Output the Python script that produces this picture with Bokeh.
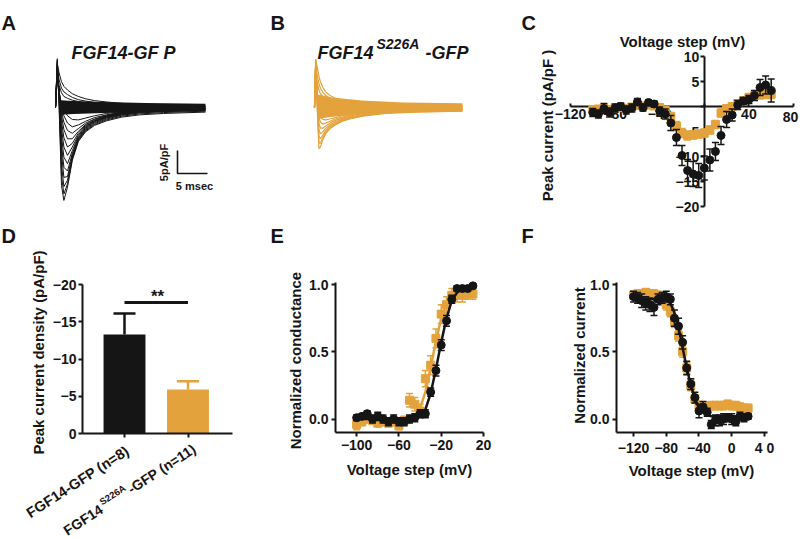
import math
from bokeh.plotting import figure
from bokeh.models import Range1d, LinearAxis, FixedTicker, Label, PrintfTickFormatter
from bokeh.layouts import row, column
from bokeh.embed import file_html
from bokeh.resources import INLINE

FONT = "Liberation Sans"
INK = "#151515"
ORANGE = "#E4A23C"

# ---------------- data ----------------
# A: FGF14-GFP current traces (time in ms, current in pA/pF)
a_t = [0, 0.3, 0.6, 1.0, 1.4, 2.0, 2.8, 3.8, 5.0, 6.5, 8.5, 11, 14, 18, 25]
a_traces = [
    [0, 10.6, 0.0, -17.0, -20.2, -17.3, -11.5, -7.4, -5.3, -3.9, -2.9, -2.1, -1.6, -1.3, -1.0],
    [0, 10.3, 1.0, -15.0, -18.8, -16.6, -11.2, -7.2, -5.1, -3.7, -2.7, -1.9, -1.4, -1.1, -0.8],
    [0, 10.0, 2.0, -12.5, -17.2, -15.8, -10.8, -7.0, -4.9, -3.5, -2.5, -1.7, -1.2, -0.9, -0.6],
    [0, 9.6, 2.5, -10.0, -15.2, -15.0, -10.4, -6.8, -4.7, -3.3, -2.3, -1.6, -1.1, -0.8, -0.5],
    [0, 9.2, 3.0, -8.0, -13.0, -13.8, -10.0, -6.6, -4.5, -3.1, -2.2, -1.5, -1.0, -0.7, -0.4],
    [0, 8.8, 3.0, -6.2, -10.8, -12.2, -9.4, -6.3, -4.3, -3.0, -2.1, -1.4, -0.9, -0.6, -0.3],
    [0, 8.4, 3.5, -4.5, -8.6, -10.4, -8.6, -6.0, -4.1, -2.9, -2.0, -1.3, -0.8, -0.5, -0.3],
    [0, 8.0, 3.5, -3.0, -6.6, -8.6, -7.8, -5.6, -3.9, -2.8, -1.9, -1.2, -0.8, -0.5, -0.2],
    [0, 7.6, 3.5, -1.8, -4.8, -6.8, -6.8, -5.2, -3.7, -2.6, -1.8, -1.2, -0.7, -0.4, -0.2],
    [0, 7.2, 3.5, -0.8, -3.2, -5.0, -5.6, -4.6, -3.4, -2.5, -1.7, -1.1, -0.7, -0.4, -0.2],
    [0, 6.8, 3.5, 0.0, -1.8, -3.4, -4.2, -3.8, -3.0, -2.2, -1.6, -1.0, -0.6, -0.4, -0.2],
    [0, 6.4, 3.5, 0.8, -0.6, -1.8, -2.6, -2.7, -2.3, -1.8, -1.3, -0.9, -0.6, -0.3, -0.1],
    [0, 9.5, 7.5, 5.6, 4.6, 3.8, 3.0, 2.4, 1.9, 1.5, 1.2, 0.9, 0.6, 0.4, 0.3],
    [0, 8.5, 6.0, 4.2, 3.4, 2.8, 2.2, 1.7, 1.4, 1.1, 0.9, 0.7, 0.5, 0.3, 0.2],
    [0, 7.5, 4.8, 3.2, 2.4, 2.0, 1.6, 1.3, 1.0, 0.8, 0.6, 0.5, 0.4, 0.3, 0.2],
]
a_band_t = [0.8, 3, 8, 15, 25]
a_band_hi = [1.6, 1.4, 1.2, 1.0, 0.8]
a_band_lo = [-1.6, -1.4, -1.2, -1.0, -0.8]

# B: FGF14(S226A)-GFP current traces
b_t = [0, 0.2, 0.45, 0.75, 1.0, 1.4, 1.9, 2.6, 3.5, 4.7, 6.2, 8.5, 12, 17, 25]
b_traces = [
    [0, 10.6, 0.0, -8.9, -8.6, -7.0, -5.7, -4.6, -3.8, -3.0, -2.4, -1.8, -1.3, -1.0, -0.8],
    [0, 10.2, 1.0, -7.6, -7.8, -6.6, -5.4, -4.4, -3.6, -2.9, -2.3, -1.7, -1.2, -0.9, -0.6],
    [0, 9.8, 2.0, -6.2, -6.8, -6.0, -5.0, -4.1, -3.4, -2.7, -2.1, -1.6, -1.1, -0.8, -0.5],
    [0, 9.4, 2.5, -4.8, -5.7, -5.3, -4.5, -3.8, -3.1, -2.5, -2.0, -1.5, -1.0, -0.7, -0.4],
    [0, 9.0, 3.0, -3.4, -4.5, -4.5, -4.0, -3.4, -2.8, -2.3, -1.8, -1.3, -0.9, -0.6, -0.3],
    [0, 8.6, 3.2, -2.0, -3.2, -3.6, -3.4, -3.0, -2.5, -2.1, -1.6, -1.2, -0.8, -0.5, -0.3],
    [0, 8.2, 3.4, -0.8, -2.0, -2.6, -2.7, -2.5, -2.2, -1.8, -1.4, -1.0, -0.7, -0.4, -0.2],
    [0, 7.8, 3.5, 0.2, -0.9, -1.6, -1.9, -1.9, -1.7, -1.5, -1.2, -0.9, -0.6, -0.4, -0.2],
    [0, 10.4, 8.8, 6.8, 5.6, 4.4, 3.4, 2.6, 2.0, 1.6, 1.2, 0.9, 0.6, 0.4, 0.3],
    [0, 9.6, 7.2, 5.2, 4.2, 3.3, 2.6, 2.0, 1.6, 1.3, 1.0, 0.7, 0.5, 0.3, 0.2],
    [0, 8.8, 5.6, 3.8, 3.0, 2.4, 1.9, 1.5, 1.2, 1.0, 0.8, 0.6, 0.4, 0.3, 0.2],
]
b_band_t = [0.5, 3, 8, 15, 25]
b_band_hi = [2.8, 2.2, 1.5, 1.1, 0.9]
b_band_lo = [-2.5, -2.0, -1.4, -1.1, -0.9]

scale_ms = 5
scale_pa = 5

# C: peak current-voltage relation
c_v = [-100, -95, -90, -85, -80, -75, -70, -65, -60, -55, -50, -45, -40, -35, -30, -25, -20,
       -15, -10, -5, 0, 5, 10, 15, 20, 25, 30, 35, 40, 45, 50, 55, 60]
c_black = [-1.2, -1.5, -0.4, -1.2, -0.3, 0.0, -0.7, -0.3, 0.9, -0.2, 0.8, 0.5, -0.9, -1.5, -3.3,
           -6.2, -9.8, -12.8, -13.5, -13.8, -12.3, -10.7, -9.0, -5.8, -2.6, -1.7, 0.3, 1.1, 1.4,
           2.2, 3.8, 4.3, 3.2]
c_black_err = [0.8, 0.8, 1.0, 0.9, 0.8, 0.7, 0.8, 0.8, 0.7, 0.7, 0.5, 0.6, 0.8, 1.0, 1.5, 1.6,
               2.0, 2.2, 2.5, 2.4, 2.4, 2.2, 1.8, 1.8, 1.6, 1.2, 0.9, 0.7, 0.8, 1.0, 1.6, 1.8, 2.3]
c_orange = [-0.6, -0.5, -0.4, -0.6, -0.3, -0.2, -0.4, -0.1, 0.2, 0.1, 0.3, 0.1, -0.2, -0.8, -2.0,
            -3.9, -5.3, -5.8, -5.7, -5.5, -5.3, -4.7, -3.6, -1.3, -0.4, 0.0, 0.6, 1.2, 1.8, 2.2,
            2.4, 2.5, 2.5]
c_orange_err = [0.6, 0.6, 0.5, 0.6, 0.5, 0.5, 0.6, 0.5, 0.5, 0.6, 0.6, 0.5, 0.6, 0.7, 0.8, 0.9,
                0.9, 0.9, 0.8, 0.8, 0.8, 0.8, 0.8, 0.8, 0.7, 0.7, 0.7, 0.7, 0.8, 0.8, 0.9, 0.9, 0.9]

# D: peak current density bars
d_x = [0, 1]
d_names = ["FGF14-GFP (n=8)", "FGF14", "S226A", "-GFP (n=11)"]
d_mean = [-13.3, -5.9]
d_sem = [2.8, 1.1]
d_sig = -17.6

# E: normalized conductance
e_v = [-100, -95, -90, -85, -80, -75, -70, -65, -60, -55, -50, -45, -40, -35, -30, -25, -20,
       -15, -10, -5, 0, 5, 10]
e_black = [0.01, 0.02, 0.04, 0.00, 0.02, 0.00, -0.02, 0.00, -0.02, -0.02, 0.00, 0.01, 0.04, 0.04,
           0.20, 0.36, 0.55, 0.73, 0.89, 0.97, 0.97, 0.97, 0.99]
e_black_err = [0.02, 0.02, 0.02, 0.03, 0.03, 0.03, 0.03, 0.03, 0.03, 0.03, 0.03, 0.03, 0.03, 0.03,
               0.03, 0.04, 0.04, 0.04, 0.03, 0.02, 0.02, 0.02, 0.01]
e_orange = [-0.04, -0.02, 0.00, -0.01, -0.03, -0.02, -0.03, -0.02, -0.05, -0.01, 0.14, 0.11, 0.06,
            0.30, 0.40, 0.60, 0.78, 0.85, 0.92, 0.92, 0.92, 0.93, 0.93]
e_orange_err = [0.04, 0.03, 0.03, 0.03, 0.03, 0.03, 0.03, 0.03, 0.03, 0.03, 0.05, 0.05, 0.05, 0.06,
                0.07, 0.07, 0.07, 0.06, 0.05, 0.05, 0.05, 0.04, 0.04]
e_black_fit = [0, 0, 0, 0, 0, 0, 0, 0, 0, 0, 0, 0.005, 0.02, 0.07, 0.19, 0.37, 0.57, 0.75, 0.88,
               0.94, 0.97, 0.98, 0.99]
e_orange_fit = [0, 0, 0, 0, 0, 0, 0, 0, 0, 0, 0.01, 0.03, 0.08, 0.20, 0.38, 0.58, 0.75, 0.86, 0.91,
                0.93, 0.93, 0.93, 0.93]

# F: normalized current (steady-state inactivation)
f_v = [-120, -115, -110, -105, -100, -95, -90, -85, -80, -75, -70, -65, -60, -55, -50, -45, -40,
       -35, -30, -25, -20, -15, -10, -5, 0, 5, 10, 15, 20]
f_black = [0.91, 0.90, 0.88, 0.86, 0.85, 0.83, 0.89, 0.90, 0.91, 0.89, 0.75, 0.69, 0.57, 0.38,
           0.26, 0.16, 0.06, 0.09, 0.05, -0.04, -0.01, -0.01, 0.00, 0.01, 0.00, -0.02, 0.02, 0.01,
           0.02]
f_black_err = [0.04, 0.04, 0.05, 0.05, 0.05, 0.06, 0.04, 0.04, 0.04, 0.04, 0.06, 0.06, 0.05, 0.05,
               0.04, 0.04, 0.05, 0.04, 0.03, 0.03, 0.04, 0.04, 0.04, 0.03, 0.04, 0.03, 0.03, 0.03,
               0.02]
f_orange = [0.92, 0.93, 0.93, 0.94, 0.93, 0.93, 0.92, 0.90, 0.85, 0.80, 0.72, 0.62, 0.50, 0.38,
            0.25, 0.15, 0.10, 0.08, 0.09, 0.10, 0.10, 0.10, 0.10, 0.11, 0.10, 0.10, 0.09, 0.08,
            0.08]
f_orange_err = [0.03, 0.03, 0.03, 0.03, 0.03, 0.03, 0.03, 0.03, 0.04, 0.04, 0.04, 0.04, 0.04,
                0.04, 0.04, 0.03, 0.03, 0.03, 0.03, 0.03, 0.03, 0.03, 0.03, 0.03, 0.03, 0.03,
                0.03, 0.03, 0.03]
f_black_fit = [0.89, 0.89, 0.89, 0.89, 0.89, 0.89, 0.89, 0.89, 0.89, 0.86, 0.79, 0.68, 0.53, 0.38,
               0.25, 0.15, 0.08, 0.05, 0.03, 0.02, 0.02, 0.02, 0.02, 0.02, 0.02, 0.02, 0.02, 0.02,
               0.02]

# ---------------- layout helpers ----------------
ARIAL_BOLD = {'F': 611, 'G': 778, '1': 556, '4': 556, '-': 333, 'P': 667, ' ': 278, '(': 333,
              'n': 611, '=': 584, ')': 333, '8': 556, 'S': 667, '2': 556, '6': 556, 'A': 722}


def text_width(s, size):
    return sum(ARIAL_BOLD.get(c, 556) for c in s) * size / 1000.0


class Panel:
    """A figure whose frame is the whole figure box (page pixels),
    with two pixel/value anchor pairs per axis."""

    def __init__(self, box, xmap, ymap):
        l, t, r, b = box
        (rx1, vx1), (rx2, vx2) = xmap
        (ry1, vy1), (ry2, vy2) = ymap
        self.ax = (vx2 - vx1) / (rx2 - rx1)
        self.bx = vx1 - self.ax * rx1
        self.ay = (vy2 - vy1) / (ry2 - ry1)
        self.by = vy1 - self.ay * ry1
        p = figure(width=r - l, height=b - t, output_backend="svg", toolbar_location=None,
                   x_range=Range1d(self.X(l), self.X(r)), y_range=Range1d(self.Y(b), self.Y(t)),
                   x_axis_location=None, y_axis_location=None, title=None,
                   min_border_left=0, min_border_right=0, min_border_top=0, min_border_bottom=0)
        p.outline_line_color = None
        p.background_fill_color = "white"
        p.border_fill_color = "white"
        p.xgrid.visible = False
        p.ygrid.visible = False
        self.p = p

    def X(self, rx):
        return self.ax * rx + self.bx

    def Y(self, ry):
        return self.ay * ry + self.by

    def text(self, rx, ry, s, size=14, style="bold", align="center", baseline="middle",
             angle=0.0, color=INK):
        self.p.add_layout(Label(x=self.X(rx), y=self.Y(ry), text=s, text_font=FONT,
                                text_font_size=f"{size}px", text_font_style=style,
                                text_align=align, text_baseline=baseline, angle=angle,
                                angle_units="deg", text_color=color))

    def axis(self, side, at, bounds, ticks, overrides=None, fmt=None, tick_in=0, tick_out=4,
             standoff=3, level=None):
        ax = LinearAxis(fixed_location=at, bounds=bounds, ticker=FixedTicker(ticks=ticks))
        if overrides is not None:
            ax.major_label_overrides = overrides
        if fmt is not None:
            ax.formatter = PrintfTickFormatter(format=fmt)
        ax.axis_line_color = INK
        ax.axis_line_width = 2
        ax.major_tick_line_color = INK
        ax.major_tick_line_width = 2
        ax.major_tick_in = tick_in
        ax.major_tick_out = tick_out
        ax.minor_tick_line_color = None
        ax.major_label_text_font = FONT
        ax.major_label_text_font_size = "14px"
        ax.major_label_text_font_style = "bold"
        ax.major_label_text_color = INK
        ax.major_label_standoff = standoff
        if level is not None:
            ax.level = level
        self.p.add_layout(ax, side)
        return ax


def errbars(p, x, y, e, color, cap=7, lw=1.5):
    lo = [a - b for a, b in zip(y, e)]
    hi = [a + b for a, b in zip(y, e)]
    p.segment(x0=x, y0=lo, x1=x, y1=hi, line_color=color, line_width=lw)
    p.scatter(x=list(x) + list(x), y=lo + hi, marker="dash", size=cap, line_color=color,
              line_width=lw)


def letter(P, rx, ry, s):
    P.text(rx, ry, s, size=20, align="left", baseline="alphabetic")


# ---------------- Panel A ----------------
A = Panel((0, 0, 268, 216), ((55, 0.0), (85, 5.0)), ((107, 0.0), (130, -5.0)))
A.p.varea(x=a_band_t, y1=a_band_lo, y2=a_band_hi, fill_color=INK)
A.p.multi_line(xs=[a_t] * len(a_traces), ys=a_traces, line_color=INK, line_width=1)
sbx, sby = A.X(177), A.Y(173)
A.p.line(x=[sbx, sbx, sbx + scale_ms], y=[sby + scale_pa, sby, sby], line_color=INK,
         line_width=1.6)
A.text(163, 162, "5pA/pF", size=11, angle=90)
A.text(194, 185, "5 msec", size=11)
A.text(123, 52, "FGF14-GF P", size=18, style="bold italic", baseline="alphabetic")
letter(A, 1, 22, "A")

# ---------------- Panel B ----------------
B = Panel((268, 0, 518, 216), ((314, 0.0), (343.6, 5.0)), ((107, 0.0), (130, -5.0)))
B.p.varea(x=b_band_t, y1=b_band_lo, y2=b_band_hi, fill_color=ORANGE)
B.p.multi_line(xs=[b_t] * len(b_traces), ys=b_traces, line_color=ORANGE, line_width=1.2)
B.text(317, 52, "FGF14", size=18, style="bold italic", align="left", baseline="alphabetic")
B.text(376, 43, "S226A", size=14, style="bold italic", align="left", baseline="alphabetic")
B.text(425, 52, "-GFP", size=18, style="bold italic", align="left", baseline="alphabetic")
letter(B, 270, 22, "B")

# ---------------- Panel C ----------------
C = Panel((518, 0, 800, 216), ((570, -120.0), (793, 80.0)), ((56, 10.0), (206, -20.0)))
C.axis("below", 0, (-120, 80), [-120, -80, -40, 0, 40, 80], overrides={0: "", 80: ""},
       tick_in=3, tick_out=0, standoff=2, level="underlay")
C.axis("left", 0, (-20, 10), [-20, -15, -10, -5, 0, 5, 10], overrides={0: ""},
       tick_out=4, standoff=1, level="underlay")
C.text(790, 116, "80", size=14)
errbars(C.p, c_v, c_orange, c_orange_err, ORANGE, cap=7, lw=1.5)
C.p.scatter(c_v, c_orange, marker="square", size=8, fill_color=ORANGE, line_color=ORANGE)
errbars(C.p, c_v, c_black, c_black_err, INK, cap=7, lw=1.5)
C.p.scatter(c_v, c_black, marker="circle", size=8, fill_color=INK, line_color=INK)
C.text(682, 41, "Voltage step (mV)", size=15)
C.text(547, 125, "Peak current (pA/pF )", size=15, angle=90)
letter(C, 521, 22, "C")

# ---------------- Panel D ----------------
D = Panel((0, 216, 268, 539), ((124, 0.0), (187.5, 1.0)), ((433, 0.0), (284, -20.0)))
D.axis("below", 0, (D.X(82), D.X(232)), d_x, overrides={0: "", 1: ""}, tick_out=4)
D.axis("left", D.X(82), (-20, 0), [0, -5, -10, -15, -20], tick_out=4, standoff=2)
D.text(38, 352, "Peak current density (pA/pF)", size=15, angle=90)
D.p.vbar(x=d_x, top=d_mean, bottom=0, width=0.66, fill_color=[INK, ORANGE], line_color=None)
d_top = [m - s for m, s in zip(d_mean, d_sem)]
bar_cols = [INK, ORANGE]
D.p.segment(x0=d_x, y0=d_mean, x1=d_x, y1=d_top, line_color=bar_cols, line_width=2.5)
D.p.scatter(x=d_x, y=d_top, marker="dash", size=22, line_color=bar_cols, line_width=2.5)
D.p.line(x=d_x, y=[d_sig, d_sig], line_color=INK, line_width=3)
D.text(157, 296, "**", size=17)
TH = 33.0
u = (math.cos(math.radians(TH)), -math.sin(math.radians(TH)))
nrm = (-math.sin(math.radians(TH)), -math.cos(math.radians(TH)))
FS = 14
D.text(127, 449, d_names[0], size=14.5, align="right", angle=TH)
ex, ey = 194, 447
D.text(ex, ey, d_names[3], size=FS, align="right", angle=TH)
w3 = text_width(d_names[3], FS)
sx, sy = ex - w3 * u[0], ey - w3 * u[1]
g = 1.0
D.text(sx - g * u[0] + 5 * nrm[0], sy - g * u[1] + 5 * nrm[1], d_names[2], size=9.5,
       align="right", angle=TH)
w2 = text_width(d_names[2], 9.5)
k = g + w2 + 2.0
D.text(sx - k * u[0], sy - k * u[1], d_names[1], size=FS, align="right", angle=TH)
letter(D, 1, 235, "D")

# ---------------- Panel E ----------------
E = Panel((268, 216, 518, 539), ((335, -120.0), (483, 20.0)), ((432, -0.1), (282, 1.015)))
E.axis("below", -0.1, (-120, 20), [-100, -60, -20, 20], tick_out=4, standoff=3)
E.axis("left", -120, (-0.1, 1.015), [0, 0.5, 1.0], fmt="%.1f", tick_out=4, standoff=3)
E.text(409, 469, "Voltage step (mV)", size=15)
E.text(295, 358, "Normalized  conductance", size=15, angle=90)
E.p.line(e_v, e_orange_fit, line_color=ORANGE, line_width=2.5)
errbars(E.p, e_v, e_orange, e_orange_err, ORANGE, cap=7, lw=1.5)
E.p.scatter(e_v, e_orange, marker="square", size=8, fill_color=ORANGE, line_color=ORANGE)
E.p.line(e_v, e_black_fit, line_color=INK, line_width=2.5)
errbars(E.p, e_v, e_black, e_black_err, INK, cap=7, lw=1.5)
E.p.scatter(e_v, e_black, marker="circle", size=8, fill_color=INK, line_color=INK)
letter(E, 270, 235, "E")

# ---------------- Panel F ----------------
F = Panel((518, 216, 800, 539), ((616, -140.8), (767, 43.7)), ((432, -0.1), (282, 1.015)))
F.axis("below", -0.1, (-140.8, 43.7), [-120, -80, -40, 0, 40], overrides={40: "4 0"},
       tick_out=4, standoff=3)
F.axis("left", -140.8, (-0.1, 1.015), [0, 0.5, 1.0], fmt="%.1f", tick_out=4, standoff=3)
F.text(691, 470, "Voltage step (mV)", size=15)
F.text(579, 355, "Normalized current", size=15, angle=90)
errbars(F.p, f_v, f_orange, f_orange_err, ORANGE, cap=7, lw=1.5)
F.p.scatter(f_v, f_orange, marker="square", size=8, fill_color=ORANGE, line_color=ORANGE)
F.p.line(f_v, f_black_fit, line_color=INK, line_width=2.5)
errbars(F.p, f_v, f_black, f_black_err, INK, cap=7, lw=1.5)
F.p.scatter(f_v, f_black, marker="circle", size=8, fill_color=INK, line_color=INK)
letter(F, 521, 235, "F")

layout = column(row(A.p, B.p, C.p), row(D.p, E.p, F.p))
open("out.html", "w").write(file_html(layout, INLINE, "FGF14 figure"))
